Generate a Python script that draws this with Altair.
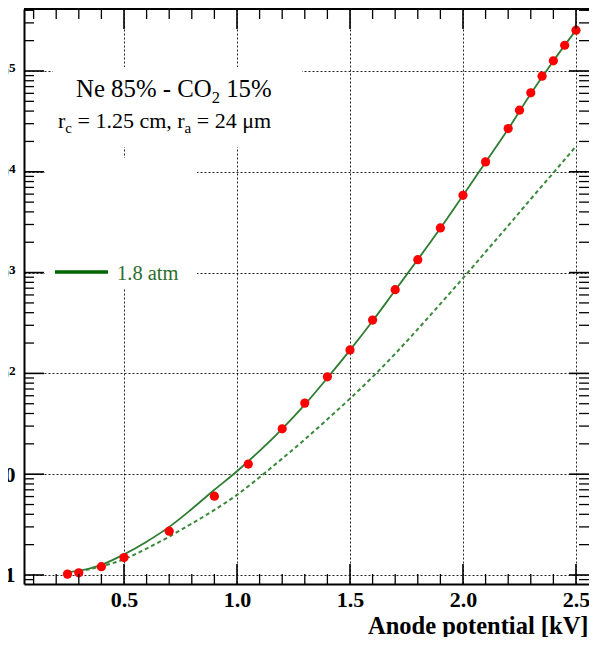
import math
import altair as alt
import pandas as pd

# ---------------- data ----------------
volt_pts = [0.25, 0.3, 0.4, 0.5, 0.7, 0.9, 1.05, 1.2, 1.3, 1.4, 1.5, 1.6, 1.7, 1.8,
            1.9, 2.0, 2.1, 2.2, 2.25, 2.3, 2.35, 2.4, 2.45, 2.5]
gain_pts = [1.02, 1.05, 1.21, 1.49, 2.72, 6.05, 12.6, 28.2, 50.7, 92.5, 171, 338, 676,
            1343, 2773, 5843, 12540, 26850, 40800, 60700, 88900, 126000, 180000, 254000]

solid_v = [0.25, 0.3, 0.4, 0.5, 0.6, 0.7, 0.8, 0.9, 1.0, 1.1, 1.2, 1.3, 1.4, 1.5, 1.6,
           1.7, 1.8, 1.9, 2.0, 2.1, 2.2, 2.3, 2.4, 2.5]
solid_g = [1.07, 1.10, 1.26, 1.60, 2.14, 3.0, 4.52, 7.0, 10.7, 17.0, 28.2, 49.0, 90.2, 170,
           331, 668, 1349, 2754, 5821, 12450, 26600, 59570, 125900, 254100]

dashed_v = [0.3, 0.4, 0.5, 0.6, 0.7, 0.8, 0.9, 1.0, 1.1, 1.2, 1.3, 1.4, 1.5, 1.6, 1.7,
            1.8, 1.9, 2.0, 2.1, 2.2, 2.3, 2.4, 2.5]
dashed_g = [1.08, 1.22, 1.43, 1.83, 2.40, 3.24, 4.42, 6.24, 9.33, 14.3, 22.1, 35.1, 56.2,
            92.3, 156.7, 275, 490, 881, 1603, 2917, 5370, 9772, 17900]

x_major = [0.5, 1.0, 1.5, 2.0, 2.5]
x_minor = [0.1, 0.2, 0.3, 0.4, 0.6, 0.7, 0.8, 0.9, 1.1, 1.2, 1.3, 1.4, 1.6, 1.7, 1.8,
           1.9, 2.1, 2.2, 2.3, 2.4]
y_major = [1, 10, 100, 1000, 10000, 100000]
y_minor = [0.9, 2, 3, 4, 5, 6, 7, 8, 9, 20, 30, 40, 50, 60, 70, 80, 90,
           200, 300, 400, 500, 600, 700, 800, 900,
           2000, 3000, 4000, 5000, 6000, 7000, 8000, 9000,
           20000, 30000, 40000, 50000, 60000, 70000, 80000, 90000,
           200000, 300000, 400000]

legend_label = "1.8 atm"

# ---------------- layout ----------------
W, H = 573, 575
VIS_R = 565          # last visible plot pixel (page is 597 px wide)
SERIF = "Liberation Serif"
GREEN_LINE = "#2e7d32"

X_DOM = [0.0575, 2.593]
Y_DOM = [0.814, 412000]
xs = alt.Scale(domain=X_DOM, nice=False, zero=False)
ys = alt.Scale(type="log", domain=Y_DOM, nice=False)
PX_PER_KV = W / (X_DOM[1] - X_DOM[0])
PX_PER_DEC = H / math.log10(Y_DOM[1] / Y_DOM[0])

label_expr = ("datum.value < 5 ? '1' : datum.value < 50 ? '10' : datum.value < 500 ? '10²' : "
              "datum.value < 5000 ? '10³' : datum.value < 50000 ? '10⁴' : '10⁵'")

x_axis = alt.Axis(orient="bottom", values=x_major, format=".1f", labelFont=SERIF,
                  labelFontWeight="bold", labelFontSize=22, labelColor="black", labelPadding=5,
                  ticks=False, domain=True, domainColor="black", domainWidth=2, grid=True,
                  gridColor="black", gridDash=[2, 2], gridWidth=1, gridOpacity=0.85,
                  labelFlush=False, title="Anode potential [kV]", titleFont=SERIF,
                  titleFontSize=24.5, titleFontWeight="bold", titleColor="black", titleX=564,
                  titleY=49, titleAlign="right", titleBaseline="alphabetic", titleAnchor="end")
y_axis = alt.Axis(orient="left", values=y_major, labelExpr=label_expr, labelFont=SERIF,
                  labelFontWeight="bold", labelFontSize=22, labelColor="black", labelPadding=9,
                  ticks=False, domain=True, domainColor="black", domainWidth=2, grid=True,
                  gridColor="black", gridDash=[2, 2], gridWidth=1, gridOpacity=0.85, title=None,
                  labelFlush=False)

solid_df = pd.DataFrame({"v": solid_v, "g": solid_g})
dashed_df = pd.DataFrame({"v": dashed_v, "g": dashed_g})
pts_df = pd.DataFrame({"v": volt_pts, "g": gain_pts})

solid = alt.Chart(solid_df).mark_line(color=GREEN_LINE, strokeWidth=1.8,
                                      interpolate="monotone").encode(
    x=alt.X("v:Q", scale=xs, axis=x_axis), y=alt.Y("g:Q", scale=ys, axis=y_axis))
dashed = alt.Chart(dashed_df).mark_line(color="#3b8a3b", strokeWidth=2, strokeDash=[4, 3],
                                        interpolate="monotone").encode(
    x=alt.X("v:Q", scale=xs, axis=None), y=alt.Y("g:Q", scale=ys, axis=None))
points = alt.Chart(pts_df).mark_circle(size=85, color="#ff0000", opacity=1).encode(
    x=alt.X("v:Q", scale=xs, axis=None), y=alt.Y("g:Q", scale=ys, axis=None))


# ---------------- inward ticks: short two-point line segments ----------------
def tick_rows(length):
    up = 10 ** (length / PX_PER_DEC)
    dx = length / PX_PER_KV
    x_right = X_DOM[0] + VIS_R / PX_PER_KV
    return up, dx, x_right


def tick_layer(xvals, yvals, length, width, tag):
    up, dx, x_right = tick_rows(length)
    rows = []
    for i, v in enumerate(xvals):
        rows += [{"id": f"{tag}b{i}", "v": v, "g": Y_DOM[0]},
                 {"id": f"{tag}b{i}", "v": v, "g": Y_DOM[0] * up},
                 {"id": f"{tag}t{i}", "v": v, "g": Y_DOM[1]},
                 {"id": f"{tag}t{i}", "v": v, "g": Y_DOM[1] / up}]
    for i, g in enumerate(yvals):
        rows += [{"id": f"{tag}l{i}", "v": X_DOM[0], "g": g},
                 {"id": f"{tag}l{i}", "v": X_DOM[0] + dx, "g": g},
                 {"id": f"{tag}r{i}", "v": x_right - dx, "g": g},
                 {"id": f"{tag}r{i}", "v": x_right, "g": g}]
    return alt.Chart(pd.DataFrame(rows)).mark_line(color="black", strokeWidth=width).encode(
        x=alt.X("v:Q", scale=xs, axis=None), y=alt.Y("g:Q", scale=ys, axis=None),
        detail="id:N")


tick_layers = [tick_layer(x_major, y_major, 20, 1.6, "M"),
               tick_layer(x_minor, y_minor, 10, 1.3, "m")]

one = pd.DataFrame({"k": [0]})


def box(x1, x2, y1, y2):
    return alt.Chart(one).mark_rect(color="white").encode(
        x=alt.value(x1), x2=alt.value(x2), y=alt.value(y1), y2=alt.value(y2))


boxes = [box(29, 278, 58, 138), box(21, 173, 149, 280)]

frame_top = alt.Chart(one).mark_rule(color="black", strokeWidth=2).encode(
    x=alt.value(0), x2=alt.value(W), y=alt.value(0))

# ---------------- text annotations ----------------
TIMES = {' ': 250, '%': 833, '-': 333, '.': 250, ',': 250, '=': 564, 'N': 722, 'e': 444,
         'C': 667, 'O': 722, 'r': 333, 'c': 444, 'm': 778, 'a': 444, 't': 278, 'μ': 576}


def tw(s, size):
    return sum(TIMES.get(ch, 500) for ch in s) / 1000 * size


def text_line(segments, x0, y0, color="black"):
    out = []
    cx = x0
    for txt, size, dy in segments:
        lead = len(txt) - len(txt.lstrip(" "))
        cx += tw(" " * lead, size)
        body = txt.strip(" ")
        out.append(alt.Chart(one).mark_text(text=body, font=SERIF, fontSize=size, color=color,
                                            align="left", baseline="alphabetic").encode(
            x=alt.value(cx), y=alt.value(y0 + dy)))
        cx += tw(body, size)
        trail = len(txt) - len(txt.rstrip(" "))
        cx += tw(" " * trail, size)
    return out


line1 = text_line([("Ne 85% - CO", 24.8, 0), ("2", 16.5, 6), (" 15%", 24.8, 0)], 52, 88)
line2 = text_line([("r", 22, 0), ("c", 15, 5), (" = 1.25 cm, r", 22, 0), ("a", 15, 5),
                   (" = 24 μm", 22, 0)], 34, 119)

legend_line = alt.Chart(one).mark_rule(color="#006400", strokeWidth=3.5).encode(
    x=alt.value(31), x2=alt.value(84), y=alt.value(263))
legend_text = alt.Chart(pd.DataFrame({"t": [legend_label]})).mark_text(
    font=SERIF, fontSize=20.5, color="#2d6e2d", align="left", baseline="alphabetic").encode(
    text="t:N", x=alt.value(93), y=alt.value(271))

chart = alt.layer(
    solid, *boxes, dashed, points, *tick_layers, frame_top, *line1, *line2, legend_line,
    legend_text
).resolve_axis(x="independent", y="independent").properties(
    width=W, height=H,
    autosize=alt.AutoSizeParams(type="none"),
    padding={"left": 16, "top": 1, "right": -8, "bottom": 53},
    background="white",
).configure_view(strokeWidth=0)

chart.save("out.html", embed_options={"renderer": "svg", "actions": False})
